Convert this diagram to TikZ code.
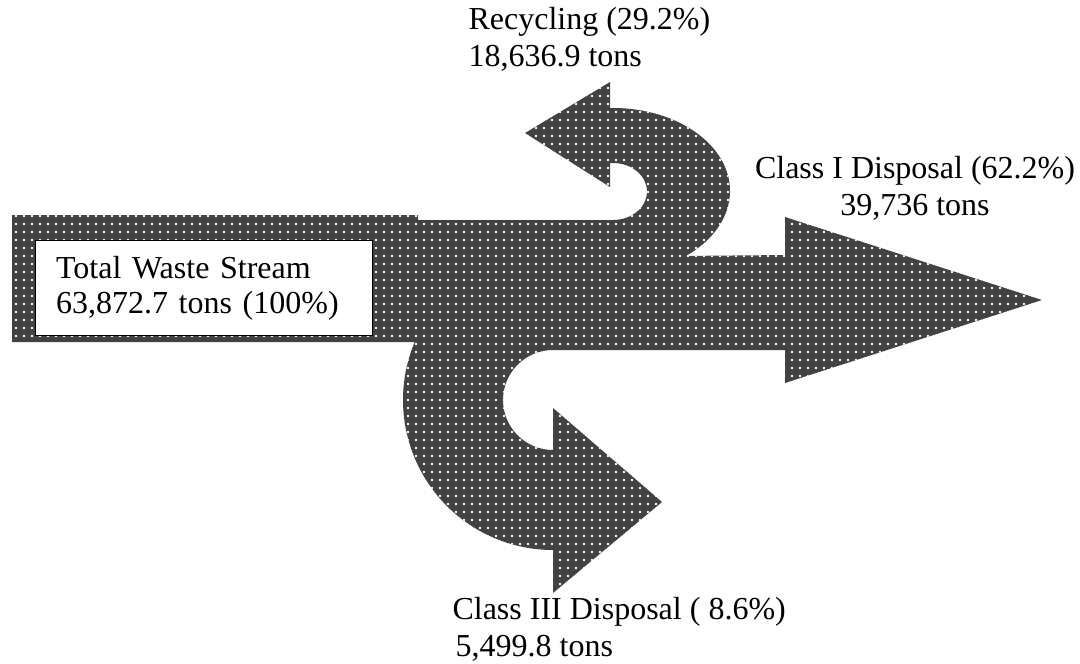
\documentclass[tikz,border=0pt]{standalone}
\usepackage{fontspec}
\setmainfont{Liberation Serif}
\usepackage{tikz}
\usetikzlibrary{positioning,patterns}

\begin{document}
\begin{tikzpicture}[x=0.375pt, y=-0.375pt, font=\fontsize{12}{13.2}\selectfont,
  flow/.style={preaction={fill=black!74}, pattern=dots, pattern color=white},
  label/.style={inner sep=0pt, align=left, font=\fontsize{12}{13.9}\selectfont}]
\useasboundingbox (0,0) rectangle (1080,664);

% the waste stream and its three branches
\fill[flow] (12,215) -- (418,215) -- (418,220) -- (613,220)
  arc[start angle=90, end angle=-90, x radius=34, y radius=28.5]
  -- (610,163) -- (610,187) -- (525,133) -- (610,82) -- (610,108) -- (613,108)
  arc[start angle=-90, end angle=51.5, x radius=117, y radius=83]
  -- (785,255) -- (785,217) -- (1042,300) -- (785,383) -- (785,350) -- (553,350)
  arc[start angle=-90, end angle=-270, radius=50]
  -- (553,408) -- (662,502) -- (553,593) -- (553,550)
  arc[start angle=90, end angle=202.7, radius=150]
  -- (12,342) -- cycle;

\node[draw, fill=white, line width=0.4pt, anchor=north west, minimum width=126.4pt, minimum height=35.6pt,
  text width=111pt, align=left, inner xsep=7.5pt, inner ysep=0pt] (total) at (35,240)
  {Total Waste Stream\\63,872.7 tons (100\%)};
\node[label, anchor=north west] (recycling) at (468,7) {Recycling (29.2\%)\\18,636.9 tons};
\node[label, align=center, anchor=north] (classone) at (915,156) {Class I Disposal (62.2\%)\\39,736 tons};
\node[label, anchor=north west] (classthree) at (452,597) {Class III Disposal ( 8.6\%)\\\hspace{1.2pt}5,499.8 tons};
\end{tikzpicture}
\end{document}
